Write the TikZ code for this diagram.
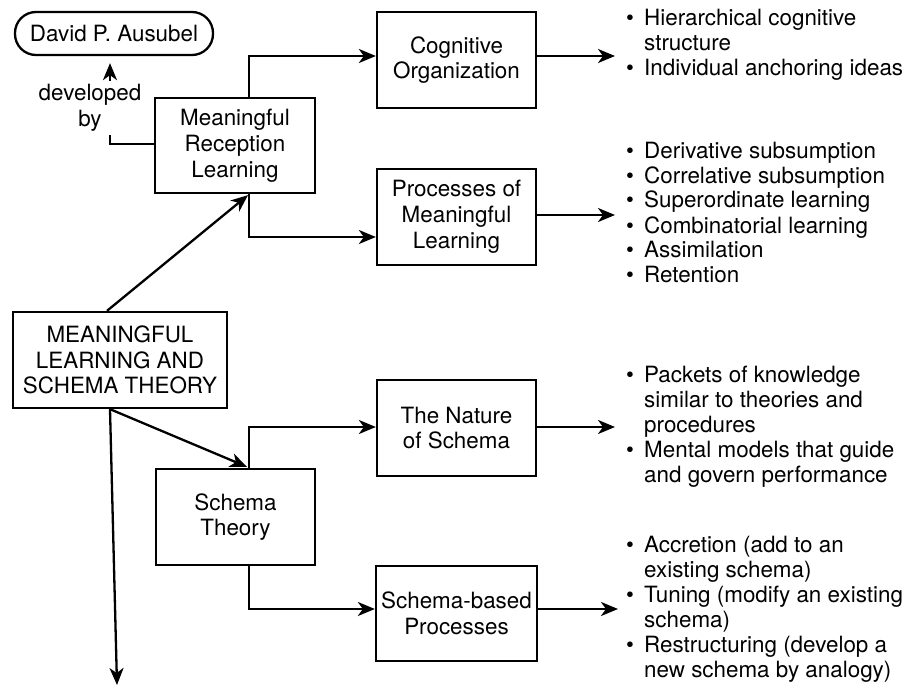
\documentclass[tikz,border=0pt]{standalone}
\usepackage{fontspec}
\setmainfont{TeX Gyre Heros}
\usetikzlibrary{arrows.meta}
% bulleted list: fixed bullet column, then the item text
\newcommand{\listtab}[1]{\begin{tabular}[t]{@{}p{18pt}@{}l@{}}#1\end{tabular}}
\newcommand{\bul}{\textbullet}
\begin{document}
\begin{tikzpicture}[x=1pt,y=-1pt,
  every node/.style={font=\fontsize{22.4}{25.8}\selectfont},
  conn/.style={line width=2.3pt},
  arr/.style={conn,-{Stealth[length=17pt,width=14pt,inset=5pt]}},
  conceptbox/.style={draw,line width=2.3pt,align=center,inner sep=0pt,
    minimum width=159pt,minimum height=96pt},
  listnode/.style={anchor=base west,inner sep=0pt,font=\fontsize{22.4}{25}\selectfont},
]
\useasboundingbox (0,0) rectangle (913,690);

% concept boxes
\node[draw,line width=2.3pt,rounded corners=21pt,minimum width=198pt,
  minimum height=43pt,inner sep=0pt] (dpa) at (114,33.5) {David P. Ausubel};
\node[conceptbox,minimum width=160pt,minimum height=95pt] (mrl) at (235,145.5)
  {Meaningful\\Reception\\Learning};
\node[conceptbox] (co) at (456.5,60) {Cognitive\\Organization};
\node[conceptbox] (pml) at (456.5,217) {Processes of\\Meaningful\\Learning};
\node[conceptbox,minimum width=214pt] (mlst) at (120,360)
  {MEANINGFUL\\LEARNING AND\\SCHEMA THEORY};
\node[conceptbox] (st) at (235.5,517) {Schema\\Theory};
\node[conceptbox] (ns) at (456.5,428) {The Nature\\of Schema};
\node[conceptbox,minimum width=161pt,minimum height=95pt] (sbp) at (456.5,613.5)
  {Schema-based\\Processes};

% "developed by" link
\node[align=center,inner sep=0pt] (dev) at (90,108) {developed\\by};
\coordinate (dv1) at (110,135);
\coordinate (dv2) at (110,81);
\draw[conn] ([yshift=1.5pt]mrl.west) -| (dv1);
\draw[arr,shorten >=7pt] (dv2) -- ([xshift=-4pt]dpa.south);

% free ends of the outgoing arrows
\coordinate (t1) at (615,56);
\coordinate (t2) at (615,215);
\coordinate (t3) at (615,427);
\coordinate (t4) at (618,609);
\coordinate (tdown) at (117,685);

% hierarchy connectors
\draw[arr] ([xshift=-13pt]mlst.north) -- ([xshift=13pt,yshift=-1pt]mrl.south);
\draw[arr] ([xshift=-10pt]mlst.south) -- ([xshift=11.5pt,yshift=1pt]st.north);
\draw[arr] ([xshift=-10pt]mlst.south) -- (tdown);
\draw[arr] ([xshift=14pt]mrl.north) |- ([yshift=4pt]co.west);
\draw[arr] ([xshift=14pt]mrl.south) |- ([yshift=-20pt]pml.west);
\draw[arr] ([xshift=13.5pt]st.north) |- ([yshift=1pt]ns.west);
\draw[arr] ([xshift=13.5pt]st.south) |- ([yshift=4.5pt]sbp.west);
\draw[arr] ([yshift=4pt]co.east) -- (t1);
\draw[arr] ([yshift=2pt]pml.east) -- (t2);
\draw[arr] ([yshift=1pt]ns.east) -- (t3);
\draw[arr] ([yshift=4.5pt]sbp.east) -- (t4);

% bulleted lists
\node[listnode] (l1) at (626,26) {\listtab{%
  \bul & Hierarchical cognitive\\
       & structure\\
  \bul & Individual anchoring ideas}};
\node[listnode] (l2) at (626,158) {\listtab{%
  \bul & Derivative subsumption\\
  \bul & Correlative subsumption\\
  \bul & Superordinate learning\\
  \bul & Combinatorial learning\\
  \bul & Assimilation\\
  \bul & Retention}};
\node[listnode] (l3) at (626,382) {\listtab{%
  \bul & Packets of knowledge\\
       & similar to theories and\\
       & procedures\\
  \bul & Mental models that guide\\
       & and govern performance}};
\node[listnode] (l4) at (626,552) {\listtab{%
  \bul & Accretion (add to an\\
       & existing schema)\\
  \bul & Tuning (modify an existing\\
       & schema)\\
  \bul & Restructuring (develop a\\
       & new schema by analogy)}};
\end{tikzpicture}
\end{document}
